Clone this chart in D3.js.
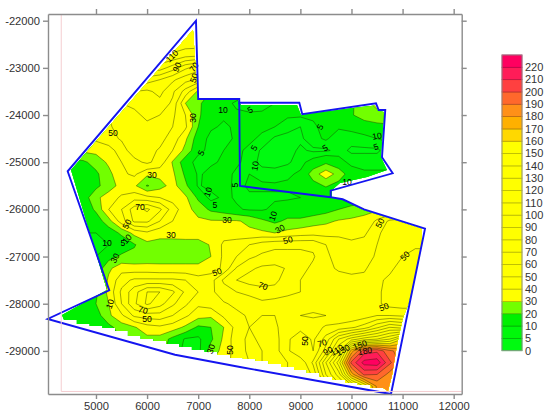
<!DOCTYPE html>
<html>
<head>
<meta charset="utf-8">
<title>Contour map</title>
<style>
  body { margin: 0; background: #fff; }
  text { font-family: "Liberation Sans", Arial, sans-serif; }
</style>
</head>
<body>
<script src="https://d3js.org/d3.v7.min.js"></script>
<script>
// ticks
const xTicks = [5000, 6000, 7000, 8000, 9000, 10000, 11000, 12000];
const yTicks = [-22000, -23000, -24000, -25000, -26000, -27000, -28000, -29000];

// colour classes, lower limit of each class
const levels = [0, 5, 10, 20, 30, 40, 50, 60, 70, 80, 90, 100, 110, 120, 130, 140, 150, 160, 170, 180, 190, 200, 210, 220];
const levelColors = ["#00fa10", "#00f80a", "#00f000", "#72ff00",
  "#ffff00", "#ffff00", "#ffff00", "#ffff00", "#ffff00", "#ffff00", "#ffff00", "#ffff00", "#ffff00", "#ffff00", "#ffff00", "#ffff00", "#ffff00",
  "#ffd800", "#ffb000", "#ff9018", "#ff682c", "#ff4040", "#ff1c58", "#ff0060"];

const gridX0 = 4000, gridY0 = -22000, gridStep = 250;
const gridValues = [
  [125,125,125,125,125,125,125,125,125,125,125,125,125,125,12,12,12,12,12,12,12,12,12,12,12,12,12,12,12,12,12,12],
  [125,125,125,125,125,125,125,125,125,125,125,125,125,125,12,12,12,12,12,12,12,12,12,12,12,12,12,12,12,12,12,12],
  [125,125,125,125,125,125,125,125,125,125,125,125,125,125,12,12,12,12,12,12,12,12,12,12,12,12,12,12,12,12,12,12],
  [120,120,120,120,120,120,120,120,120,120,118,112,110,110,12,12,12,12,12,12,12,12,12,12,12,12,12,12,12,12,12,12],
  [105,105,105,105,105,105,105,105,105,105,95,82,75,75,12,12,12,12,12,12,12,12,12,12,12,12,12,12,12,12,12,12],
  [85,85,85,85,85,85,85,85,85,80,72,64,58,58,12,12,12,12,12,12,12,12,12,12,12,12,12,12,12,12,12,12],
  [70,70,70,70,70,70,70,70,68,73,62,46,28,20,14,14,14,14,14,14,14,14,14,14,14,14,14,14,14,14,14,14],
  [60,60,60,60,60,60,60,62,66,67,58,30,22,14,12,9,7,8,10,10,10,10,11,13,18,28,32,28,28,28,28,28],
  [50,50,50,50,50,50,55,58,62,60,52,40,22,12,11,11,11,11,11,11,11,11,11,13,19,25,28,27,27,27,27,27],
  [45,45,45,45,45,49,53,58,58,56,50,42,20,11,9,11,11,11,10,7,5,9,12,11,12,14,16,18,18,18,18,18],
  [42,42,42,42,42,47,51,56,55,53,46,32,14,8,8,11,11,9,4,3,4,8,11,6,7,8,10,11,11,11,11,11],
  [35,35,35,32,33,35,46,55,53,49,40,27,12,8,10,11,9,4,3,3,6,4,4,7,4,4,4,8,8,8,8,8],
  [15,15,15,18,24,32,40,47,52,46,29,14,7,9,11,11,8,3,3,4,8,13,18,13,8,8,8,8,8,8,8,8],
  [12,12,12,14,18,27,38,42,32,33,32,18,9,12,12,9,10,8,7,9,11,25,36,26,14,11,11,11,11,11,11,11],
  [12,12,12,14,17,26,33,32,19,26,34,22,9,13,13,8,11,11,11,11,12,16,21,16,11,11,11,11,11,11,11,11],
  [11,11,11,14,28,34,42,46,43,40,36,32,18,7,12,9,9,9,9,9,10,11,11,11,11,11,11,11,11,11,11,11],
  [10,10,10,12,22,40,50,65,72,62,45,34,26,18,15,11,9,9,12,14,11,13,16,20,24,28,28,28,28,28,28,28],
  [10,10,10,10,14,26,45,62,62,50,40,33,32,31,31,31,28,22,18,22,23,26,28,31,32,32,42,52,55,55,55,55],
  [10,10,10,10,10,14,22,33,38,33,35,36,36,38,36,33,32,32,30,33,35,36,36,38,37,38,48,55,55,55,55,55],
  [8,8,8,8,8,10,13,19,27,27,25,25,25,31,42,46,50,55,58,58,58,58,50,44,42,44,50,55,55,52,52,52],
  [10,10,10,10,10,16,22,23,24,25,25,25,25,30,42,50,58,62,63,63,63,61,53,44,42,44,52,56,50,46,46,46],
  [12,12,12,12,12,28,36,34,34,33,33,33,33,35,42,61,68,72,73,69,63,58,52,49,48,49,54,52,46,44,44,44],
  [14,14,14,14,14,32,46,52,52,52,52,50,44,46,62,70,74,76,74,62,60,58,54,53,52,52,52,48,46,44,44,44],
  [14,14,14,14,18,33,52,66,80,80,72,58,50,48,55,60,63,65,64,63,60,54,54,54,54,52,52,46,45,45,45,45],
  [12,12,12,14,20,30,50,68,82,74,62,52,42,45,49,52,54,58,57,54,54,53,53,53,53,50,52,46,45,45,45,45],
  [10,10,13,14,15,28,38,52,55,56,50,42,34,32,42,48,51,50,50,51,50,49,50,51,52,55,60,60,58,58,58,58],
  [12,12,12,13,14,17,25,29,36,38,35,28,18,20,30,44,50,46,48,56,56,54,62,64,68,75,88,100,95,95,95,95],
  [14,14,14,14,14,14,20,24,27,26,17,9,8,18,32,46,52,48,46,58,68,58,74,100,115,125,130,140,160,160,160,160],
  [20,20,20,20,20,20,20,20,25,25,14,8,7,25,33,45,52,50,46,58,70,60,85,120,175,205,208,192,185,185,185,185],
  [10,10,10,10,10,10,10,10,10,10,10,10,10,30,35,45,50,50,47,50,52,72,110,145,203,224,226,202,186,186,186,186],
  [40,40,40,40,40,40,40,40,40,40,40,40,40,40,40,45,48,48,48,50,50,62,100,125,175,202,200,186,186,186,186,186],
  [48,48,48,48,48,48,48,48,48,48,48,48,48,48,48,48,48,48,48,50,50,55,80,105,125,150,182,186,186,186,186,186],
  [48,48,48,48,48,48,48,48,48,48,48,48,48,48,48,48,48,48,48,50,50,55,80,105,125,150,182,186,186,186,186,186]
];

// survey boundary
const boundaryX = [6957, 7000, 7804, 7804, 8979, 9037, 10480, 10532, 10661, 10597, 10806, 9593, 9593, 9828, 10245, 11439, 10773, 7818, 6546, 4055, 5260, 4446];
const boundaryY = [-22000, -23660, -23660, -23738, -23738, -23984, -23751, -23893, -23893, -24896, -25235, -25604, -25744, -25786, -25998, -26410, -29915, -29342, -29081, -28324, -27716, -25193];
const innerX = [7804, 7818, 9593];
const innerY = [-23738, -25505, -25744];

// edge of the gridded area, a little inside the boundary
const fillX = [6898, 6977, 6996, 7779, 7838, 8934, 9012, 10029, 10460, 10519, 10636, 10577, 10695, 10304, 9775, 9619, 9619, 9834, 10225, 11380, 11380, 11282, 11106, 11008, 10949, 10890, 10793, 10714];
const fillY = [-22197, -23427, -23681, -23681, -23787, -23787, -23999, -23851, -23798, -23914, -23936, -24890, -25165, -25314, -25441, -25590, -25738, -25802, -26014, -26416, -26607, -27243, -28027, -28303, -28579, -28875, -29511, -29850];
// lower edge, one step per grid column from x = 4500
const stepY = [-28345, -28430, -28472, -28515, -28578, -28684, -28748, -28790, -28854, -28917, -28981, -29023, -29087, -29150, -29171, -29214, -29277, -29341, -29405, -29468, -29553, -29617, -29680, -29723, -29786];
const fillLeftX = [4335, 5215, 4511];
const fillLeftY = [-28239, -27710, -25165];

// contour labels: x, y, text, rotation
const contourLabels = [
  [6487, -22748, "110", -45], [6585, -22982, "90", -65], [6918, -22982, "70", -55], [6918, -23215, "50", -70],
  [6898, -24063, "30", -90], [5333, -24381, "50", 0], [6096, -25271, "30", 0], [5861, -25950, "70", 0],
  [7485, -23893, "10", 0], [8014, -23893, "5", -30], [7055, -24805, "5", -60], [7192, -25632, "10", -70],
  [7329, -25907, "5", 0], [7720, -25483, "5", -90], [8092, -24699, "5", -60], [8112, -25080, "10", -80],
  [9384, -24254, "5", -60], [9482, -24699, "5", -30], [10499, -24444, "10", -10], [10480, -24677, "5", -20],
  [9912, -25420, "10", 0], [5607, -26310, "50", -60], [5607, -26628, "10", -50], [5528, -26713, "5", 0],
  [5215, -26713, "10", 0], [6468, -26543, "30", 0], [7564, -26225, "30", 0], [5372, -27031, "30", -60],
  [7368, -27327, "50", -20], [8268, -27624, "70", 20], [5274, -28006, "10", -70], [5920, -28133, "70", 15],
  [5998, -28324, "50", 0], [7251, -28960, "30", -70], [7622, -28981, "50", -90], [8601, -26416, "30", -30],
  [8757, -26649, "50", -15], [8464, -26140, "10", -70], [10558, -26289, "50", -60], [11047, -26988, "50", -45],
  [10636, -28069, "50", -20], [9090, -28790, "50", -90], [9423, -28833, "70", -15], [9540, -29002, "90", -30],
  [9716, -28981, "110", -30], [9834, -28981, "130", -30], [10166, -28875, "150", -20], [10264, -29002, "180", -10]
];

// legend labels, bottom to top
const legendLabels = [0, 5, 10, 20, 30, 40, 50, 60, 70, 80, 90, 100, 110, 120, 130, 140, 150, 160, 170, 180, 190, 200, 210, 220];

const width = 550, height = 418;
const x = d3.scaleLinear().domain([4061, 12157]).range([48, 461.7]);
const y = d3.scaleLinear().domain([-21858, -29914]).range([14, 394]);

const svg = d3.select("body").append("svg")
  .attr("width", width)
  .attr("height", height)
  .style("display", "block");

// clip polygon for the coloured area
const fillEdge = fillX.map((d, i) => [d, fillY[i]]);
for (let i = stepY.length - 1; i >= 0; i--) {
  const cx = gridX0 + (i + 2) * gridStep;
  fillEdge.push([cx + gridStep / 2, stepY[i]], [cx - gridStep / 2, stepY[i]]);
}
fillLeftX.forEach((d, i) => fillEdge.push([d, fillLeftY[i]]));

const toPath = d3.line().x(d => x(d[0])).y(d => y(d[1]));
svg.append("clipPath").attr("id", "fill-clip")
  .append("path").attr("d", toPath(fillEdge) + "Z");

// contours, drawn from low class to high
const rows = gridValues.length, cols = gridValues[0].length;
const contours = d3.contours().size([cols, rows]).thresholds(levels)(gridValues.flat());
const gridPath = d3.geoPath(d3.geoTransform({
  point(gx, gy) {
    this.stream.point(x(gridX0 + (gx - 0.5) * gridStep), y(gridY0 - (gy - 0.5) * gridStep));
  }
}));

const map = svg.append("g").attr("clip-path", "url(#fill-clip)");
map.selectAll("path.band").data(contours).enter().append("path")
  .attr("class", "band")
  .attr("d", gridPath)
  .attr("fill", (d, i) => levelColors[i]);
map.selectAll("path.line").data(contours.slice(1)).enter().append("path")
  .attr("class", "line")
  .attr("d", gridPath)
  .attr("fill", "none")
  .attr("stroke", "#1c2a00")
  .attr("stroke-opacity", 0.6)
  .attr("stroke-width", 0.7);

svg.append("g").selectAll("text").data(contourLabels).enter().append("text")
  .attr("transform", d => "translate(" + x(d[0]) + "," + y(d[1]) + ") rotate(" + d[3] + ")")
  .attr("text-anchor", "middle")
  .attr("dy", "0.35em")
  .attr("font-size", 8.6)
  .attr("fill", "#000")
  .text(d => d[2]);

// boundary
const blue = svg.append("g").attr("fill", "none").attr("stroke", "#1414f0").attr("stroke-width", 1.9).attr("stroke-linejoin", "miter");
blue.append("path").attr("d", toPath(boundaryX.map((d, i) => [d, boundaryY[i]])) + "Z");
blue.append("path").attr("d", toPath(innerX.map((d, i) => [d, innerY[i]])));

// faint frame of the data area
const pink = svg.append("g").attr("fill", "none").attr("stroke", "#f4cdd0").attr("stroke-width", 1);
pink.append("path").attr("d", toPath([[4320, -21858], [4320, -29860], [12157, -29860]]));

// axes
const axisStyle = g => {
  g.selectAll(".domain, .tick line").attr("stroke", "#8c8c8c").attr("stroke-width", 1.4);
  g.selectAll("text").attr("font-size", 11.2).attr("fill", "#333")
    .style("font-family", '"Liberation Sans", Arial, sans-serif');
};
svg.append("g").attr("transform", "translate(0," + y.range()[1] + ")")
  .call(d3.axisBottom(x).tickValues(xTicks).tickSize(5).tickSizeOuter(0).tickPadding(3).tickFormat(d => d))
  .call(axisStyle);
svg.append("g").attr("transform", "translate(0," + y.range()[0] + ")")
  .call(d3.axisTop(x).tickValues(xTicks).tickSize(5).tickSizeOuter(0).tickFormat(""))
  .call(axisStyle);
svg.append("g").attr("transform", "translate(" + x.range()[0] + ",0)")
  .call(d3.axisLeft(y).tickValues(yTicks).tickSize(5).tickSizeOuter(0).tickPadding(3).tickFormat(d => d))
  .call(axisStyle);
svg.append("g").attr("transform", "translate(" + x.range()[1] + ",0)")
  .call(d3.axisRight(y).tickValues(yTicks).tickSize(5).tickSizeOuter(0).tickFormat(""))
  .call(axisStyle);

// colour bar
const legendY = d3.scaleLinear().domain([0, legendLabels.length - 1]).range([350.7, 67.3]);
const cellH = legendY(0) - legendY(1);
const legend = svg.append("g");
legend.selectAll("rect").data(levelColors).enter().append("rect")
  .attr("x", 502)
  .attr("y", (d, i) => legendY(i) - cellH)
  .attr("width", 20)
  .attr("height", cellH)
  .attr("fill", d => d)
  .attr("stroke", d => d3.color(d).darker(0.9))
  .attr("stroke-width", 0.8);
legend.append("rect")
  .attr("x", 502)
  .attr("y", legendY(legendLabels.length - 1) - cellH)
  .attr("width", 20)
  .attr("height", legendY(0) - legendY(legendLabels.length - 1) + cellH)
  .attr("fill", "none")
  .attr("stroke", "#9a9a9a")
  .attr("stroke-width", 0.8);
legend.selectAll("text").data(legendLabels).enter().append("text")
  .attr("x", 525)
  .attr("y", (d, i) => legendY(i))
  .attr("dy", "0.35em")
  .attr("font-size", 11)
  .attr("fill", "#333")
  .text(d => d);
</script>
</body>
</html>
